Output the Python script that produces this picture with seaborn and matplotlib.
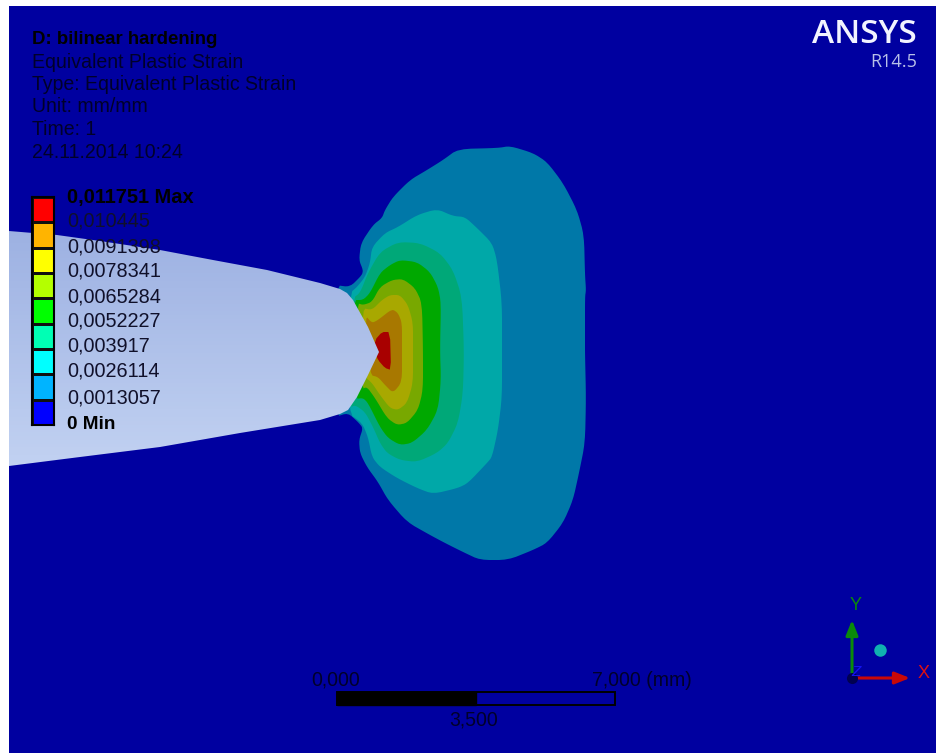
import matplotlib
matplotlib.use("Agg")
import matplotlib.pyplot as plt
import numpy as np
import seaborn as sns
from matplotlib.colors import ListedColormap, LinearSegmentedColormap
from matplotlib.patches import Polygon, Rectangle

sns.set_theme(style="white")
plt.rcParams["font.family"] = ["Liberation Sans", "DejaVu Sans"]

# ---- text ----
header_lines = ["Equivalent Plastic Strain", "Type: Equivalent Plastic Strain",
                "Unit: mm/mm", "Time: 1", "24.11.2014 10:24"]
title_line = "D: bilinear hardening"
level_labels = ["0,011751 Max", "0,010445", "0,0091398", "0,0078341", "0,0065284",
                "0,0052227", "0,003917", "0,0026114", "0,0013057", "0 Min"]
level_values = [0.011751, 0.010445, 0.0091398, 0.0078341, 0.0065284,
                0.0052227, 0.003917, 0.0026114, 0.0013057, 0.0]
legend_colors = ["#FF0000", "#FFB400", "#FFFF00", "#B4FF00", "#00FF00",
                 "#00FFB4", "#00FFFF", "#00B4FF", "#0000FF"]
scale_labels = ["0,000", "3,500", "7,000 (mm)"]

# ---- geometry (pixel coordinates of the view) ----
notch = [(9, 231), (57, 235), (100, 241), (160, 250), (213, 260), (267, 270), (320, 283), (340, 289),
         (347, 293), (353, 300), (368, 327), (379, 352), (368, 375), (357, 397), (348, 410), (340, 414),
         (320, 420), (240, 433), (160, 447), (80, 457), (9, 466)]
band_1 = [(335, 285), (350, 287), (362, 275), (363, 270), (359, 260), (361, 243), (373, 225), (382, 218),
          (385, 210), (393, 197), (410, 180), (427, 170), (443, 160), (458, 149), (498, 148), (510, 146),
          (533, 153), (547, 162), (563, 183), (577, 210), (584, 235), (585, 275), (586, 290), (585, 297),
          (585, 340), (585, 353), (586, 398), (585, 443), (579, 473), (573, 500), (563, 523), (547, 543),
          (533, 550), (508, 560), (480, 560), (463, 552), (445, 543), (430, 535), (407, 522), (388, 500),
          (378, 482), (367, 467), (360, 453), (359, 440), (363, 428), (358, 422), (348, 413), (335, 417)]
band_2 = [(350, 293), (357, 287), (365, 277), (370, 263), (372, 247), (385, 233), (398, 227), (417, 215),
          (437, 209), (453, 216), (465, 217), (477, 228), (492, 243), (497, 260), (502, 303), (502, 350),
          (502, 397), (498, 430), (492, 457), (487, 463), (468, 483), (458, 488), (433, 494), (417, 488),
          (397, 478), (380, 467), (372, 457), (368, 437), (362, 423), (348, 413)]
band_3 = [(353, 298), (360, 293), (368, 273), (380, 252), (398, 242), (420, 243), (440, 253), (453, 270),
          (462, 297), (464, 350), (463, 393), (458, 423), (448, 443), (437, 453), (417, 462), (400, 460),
          (387, 453), (380, 443), (373, 427), (365, 412), (355, 405), (350, 408)]
band_4 = [(353, 300), (363, 300), (370, 293), (380, 273), (390, 265), (400, 260), (417, 262), (430, 272),
          (438, 287), (441, 303), (440, 350), (441, 380), (438, 410), (427, 430), (412, 443), (400, 445),
          (388, 438), (380, 427), (368, 403), (363, 398), (355, 399)]
band_5 = [(357, 303), (363, 305), (372, 302), (380, 287), (392, 280), (403, 279), (415, 288), (422, 303),
          (423, 350), (423, 390), (418, 410), (407, 423), (397, 425), (387, 418), (375, 398), (367, 387),
          (362, 389)]
band_6 = [(362, 308), (372, 310), (382, 300), (390, 295), (400, 295), (408, 305), (413, 323), (413, 350),
          (413, 383), (407, 403), (398, 410), (390, 408), (380, 395), (372, 383), (365, 377)]
band_7 = [(365, 315), (372, 323), (378, 320), (392, 309), (398, 313), (402, 323), (402, 350), (402, 382),
          (393, 393), (385, 385), (378, 377), (370, 375)]
band_8 = [(375, 340), (382, 332), (390, 332), (391, 370), (385, 368), (378, 360), (375, 352)]
bands = [band_1, band_2, band_3, band_4, band_5, band_6, band_7, band_8]
band_colors = ["#0078A8", "#00A8A8", "#00A878", "#00A800", "#78A800", "#A8A800", "#A87800", "#A80000"]


def rounded(pts, passes=2):
    """Corner cutting, so the traced outlines render as soft contours."""
    p = np.asarray(pts, dtype=float)
    for _ in range(passes):
        q = np.roll(p, -1, axis=0)
        p = np.column_stack([0.8 * p + 0.2 * q, 0.2 * p + 0.8 * q]).reshape(-1, 2)
    return p


fig = plt.figure(figsize=(9.36, 7.53), dpi=100, facecolor="white")
ax = fig.add_axes([0, 0, 1, 1])
ax.set_axis_off()

# viewport
ax.add_patch(Rectangle((9, 6), 927, 747, facecolor="#0000A0", edgecolor="none", zorder=0))

# contour bands
for i, (pts, col) in enumerate(zip(bands, band_colors)):
    ax.add_patch(Polygon(rounded(pts, 2 if i < 7 else 1), closed=True, facecolor=col, edgecolor="none", zorder=1))

# cracked plate with a shaded gradient
plate_cmap = LinearSegmentedColormap.from_list("plate", ["#9DB1E2", "#C2D2F2"])
img = ax.imshow(np.linspace(0, 1, 64)[:, None], cmap=plate_cmap, extent=(0, 400, 470, 228),
                aspect="auto", zorder=2)
clip = Polygon(notch, closed=True, transform=ax.transData, facecolor="none", edgecolor="none")
ax.add_patch(clip)
img.set_clip_path(clip)

ax.set_xlim(0, 936)
ax.set_ylim(753, 0)

# text block
txt = dict(color="#00002A", va="center", ha="left", fontsize=14.05, zorder=5)
ax.text(32, 39, title_line, **{**txt, "color": "black", "fontsize": 13.4}, fontweight="bold")
for s, y in zip(header_lines, [62, 84, 106, 129, 152]):
    ax.text(32, y, s, **txt)

# legend colour bar drawn as a heatmap
cax = fig.add_axes([32 / 936, 1 - 425 / 753, 22 / 936, 228 / 753])
mid = (np.array(level_values[:-1]) + np.array(level_values[1:])) / 2
sns.heatmap(mid[:, None], ax=cax, cmap=ListedColormap(legend_colors[::-1]), cbar=False,
            linewidths=0.8, linecolor="#101010", xticklabels=False, yticklabels=False,
            vmin=0, vmax=level_values[0])
for sp in cax.spines.values():
    sp.set_visible(True)
    sp.set_color("black")
    sp.set_linewidth(1.5)

for s, y, i in zip(level_labels, [197, 221, 247, 271, 297, 321, 346, 371, 398, 424], range(10)):
    bold = i in (0, 9)
    size = 14.4 if i == 0 else 13.6 if i == 9 else 14.3
    ax.text(67, y, s, color="black" if bold else "#10102A", va="center", ha="left", fontsize=size,
            fontweight="bold" if bold else "normal", zorder=5)

# branding
ax.text(917, 34, "ANSYS", color="#F2F4FF", ha="right", va="center", fontsize=24,
        fontweight="semibold", family="Open Sans", zorder=5)
ax.text(917, 62, "R14.5", color="#B8C0E8", ha="right", va="center", fontsize=13,
        family="Open Sans", zorder=5)

# scale bar
ax.add_patch(Rectangle((337, 692), 278, 13, facecolor="none", edgecolor="black", lw=1.4, zorder=5))
ax.add_patch(Rectangle((337, 692), 139, 13, facecolor="black", edgecolor="black", lw=1.0, zorder=5))
ax.text(336, 680, scale_labels[0], **{**txt, "ha": "center"})
ax.text(474, 720, scale_labels[1], **{**txt, "ha": "center"})
ax.text(592, 680, scale_labels[2], **txt)

# triad
ax.annotate("", xy=(852, 620), xytext=(852, 678), zorder=5,
            arrowprops=dict(arrowstyle="-|>,head_width=0.3,head_length=0.75", color="#0A8A0A", lw=2.2, shrinkA=0, shrinkB=0))
ax.annotate("", xy=(910, 678), xytext=(852, 678), zorder=5,
            arrowprops=dict(arrowstyle="-|>,head_width=0.3,head_length=0.75", color="#C80808", lw=2.2, shrinkA=0, shrinkB=0))
ax.plot([852], [678], "o", ms=8, color="#000050", mew=0, zorder=6)
ax.plot([880], [650], "o", ms=9, color="#10B0B0", mew=0, zorder=6)
ax.text(856, 606, "Y", color="#0A8A0A", ha="center", va="center", fontsize=13, zorder=6)
ax.text(924, 674, "X", color="#E01010", ha="center", va="center", fontsize=13, zorder=6)
ax.text(856, 672, "Z", color="#1414F0", ha="center", va="center", fontsize=11, style="italic", zorder=7)

fig.savefig("out.png", dpi=100)
